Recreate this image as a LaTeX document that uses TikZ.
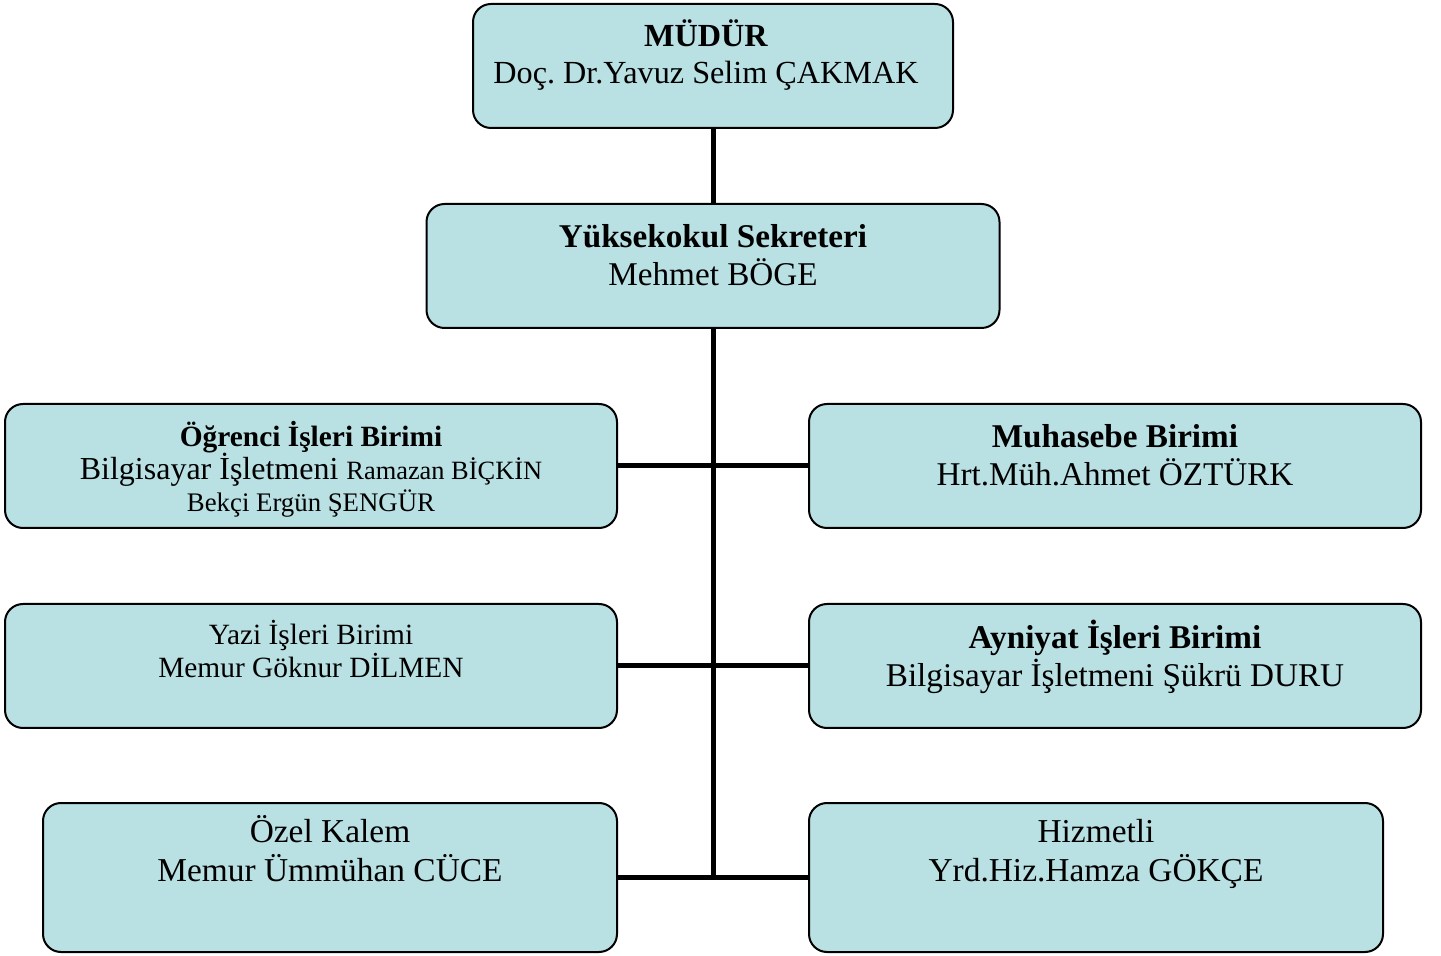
\documentclass[tikz,border=0pt]{standalone}
\usepackage{fontspec}
\setmainfont{Liberation Serif}
\usetikzlibrary{positioning}
\definecolor{boxfill}{RGB}{185,224,227}
\frenchspacing

\begin{document}
\begin{tikzpicture}[x=0.5pt, y=-0.5pt, every node/.style={font=\fontsize{16.6}{19}\selectfont}]
\tikzstyle{unit} = [draw=black, fill=boxfill, line width=1pt, rounded corners=9pt, inner sep=0pt, minimum height=62pt]
\tikzstyle{txt} = [align=center, anchor=base, inner sep=0pt]
\tikzstyle{link} = [line width=2.5pt]

\useasboundingbox (0,0) rectangle (1441,956);

% Boxes
\node[unit, minimum width=240pt] (mudur) at (713,66) {};
\node[unit, minimum width=286.5pt] (sekreter) at (713,266) {};
\node[unit, minimum width=306pt] (ogrenci) at (311,466) {};
\node[unit, minimum width=306pt] (muhasebe) at (1115,466) {};
\node[unit, minimum width=306pt] (yazi) at (311,666) {};
\node[unit, minimum width=306pt] (ayniyat) at (1115,666) {};
\node[unit, minimum width=287pt, minimum height=74.5pt] (ozel) at (330,877.5) {};
\node[unit, minimum width=287pt, minimum height=74.5pt] (hizmetli) at (1096,877.5) {};

% Texts (anchored at the baseline of the last line)
\node[txt, font=\fontsize{16.1}{18.5}\selectfont] (mudur-t) at (706,84) {\textbf{MÜDÜR}\\Doç. Dr.Yavuz Selim ÇAKMAK};
\node[txt] (sekreter-t) at (713,286) {\textbf{Yüksekokul Sekreteri}\\Mehmet BÖGE};
\node[txt, font=\fontsize{16}{19}\selectfont] (ogrenci-t) at (311,512) {{\fontsize{14.7}{17}\selectfont\bfseries Öğrenci İşleri Birimi}\\[-2.5pt]
  Bilgisayar İşletmeni {\fontsize{13.2}{16}\selectfont Ramazan BİÇKİN}\\[-3pt]
  {\fontsize{13.4}{16}\selectfont Bekçi Ergün ŞENGÜR}};
\node[txt] (muhasebe-t) at (1115,486) {\textbf{Muhasebe Birimi}\\Hrt.Müh.Ahmet ÖZTÜRK};
\node[txt, font=\fontsize{14.7}{17}\selectfont] (yazi-t) at (311,678) {Yazi İşleri Birimi\\Memur Göknur DİLMEN};
\node[txt] (ayniyat-t) at (1115,687) {\textbf{Ayniyat İşleri Birimi}\\Bilgisayar İşletmeni Şükrü DURU};
\node[txt, font=\fontsize{16.7}{19.5}\selectfont] (ozel-t) at (330,881) {Özel Kalem\\Memur Ümmühan CÜCE};
\node[txt, font=\fontsize{16.7}{19.5}\selectfont] (hizmetli-t) at (1096,881) {Hizmetli\\Yrd.Hiz.Hamza GÖKÇE};

% Lines
\draw[link] (mudur) -- (sekreter);
\draw[link] (sekreter.south) -- (sekreter.south |- ozel.east);
\draw[link] (ogrenci) -- (muhasebe);
\draw[link] (yazi) -- (ayniyat);
\draw[link] (ozel) -- (hizmetli);

\end{tikzpicture}
\end{document}
